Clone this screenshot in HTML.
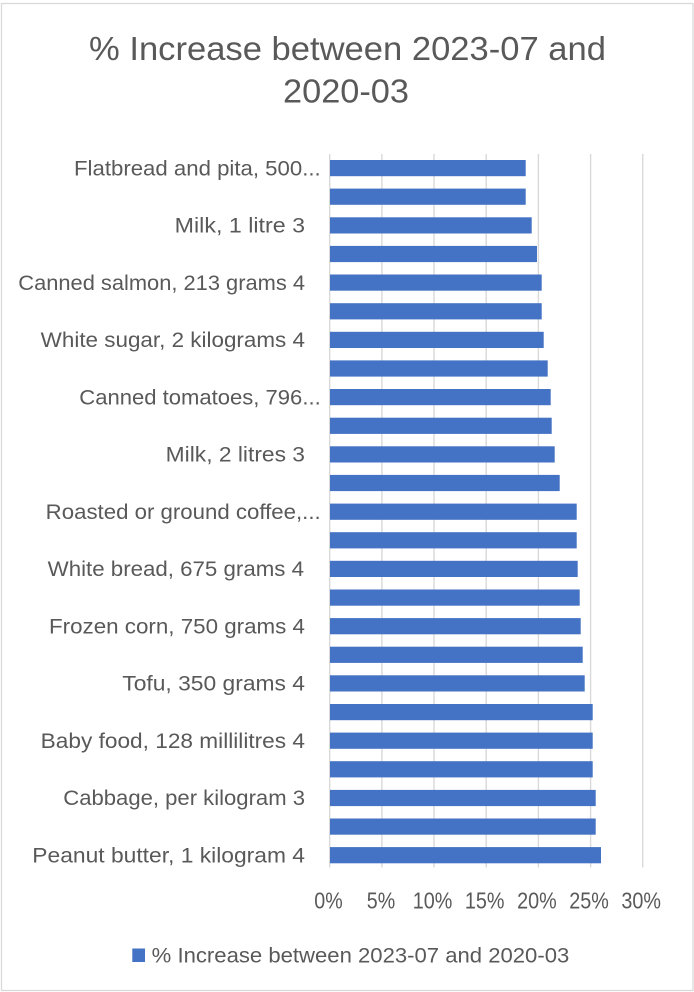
<!DOCTYPE html>
<html><head><meta charset="utf-8"><style>
html,body{margin:0;padding:0;background:#fff;}
svg{display:block;}
text{font-family:"Liberation Sans",Arial,sans-serif;fill:#595959;}
</style></head><body>
<svg width="694" height="992" viewBox="0 0 694 992" xmlns="http://www.w3.org/2000/svg">
<rect x="0" y="0" width="694" height="992" fill="#fff"/>
<rect x="1.5" y="3.5" width="691.5" height="987" fill="none" stroke="#d9d9d9" stroke-width="1.3"/>
<text x="89" y="60" font-size="33" textLength="517" lengthAdjust="spacingAndGlyphs">% Increase between 2023-07 and</text>
<text x="283" y="102.5" font-size="33" textLength="126" lengthAdjust="spacingAndGlyphs">2020-03</text>
<g stroke="#d9d9d9" stroke-width="1.4">
<line x1="329.7" y1="154" x2="329.7" y2="867.5"/>
<line x1="381.9" y1="154" x2="381.9" y2="867.5"/>
<line x1="434" y1="154" x2="434" y2="867.5"/>
<line x1="486.2" y1="154" x2="486.2" y2="867.5"/>
<line x1="538.4" y1="154" x2="538.4" y2="867.5"/>
<line x1="590.6" y1="154" x2="590.6" y2="867.5"/>
<line x1="642.7" y1="154" x2="642.7" y2="867.5"/>
</g>
<g fill="#4472c4">
<rect x="330" y="160" width="195.7" height="16.2"/>
<rect x="330" y="188.6" width="195.7" height="16.2"/>
<rect x="330" y="217.3" width="201.7" height="16.2"/>
<rect x="330" y="245.9" width="207" height="16.2"/>
<rect x="330" y="274.5" width="211.7" height="16.2"/>
<rect x="330" y="303.2" width="211.7" height="16.2"/>
<rect x="330" y="331.8" width="213.7" height="16.2"/>
<rect x="330" y="360.4" width="217.7" height="16.2"/>
<rect x="330" y="389" width="220.7" height="16.2"/>
<rect x="330" y="417.7" width="221.7" height="16.2"/>
<rect x="330" y="446.3" width="224.7" height="16.2"/>
<rect x="330" y="474.9" width="229.7" height="16.2"/>
<rect x="330" y="503.6" width="246.7" height="16.2"/>
<rect x="330" y="532.2" width="246.7" height="16.2"/>
<rect x="330" y="560.8" width="247.7" height="16.2"/>
<rect x="330" y="589.5" width="249.7" height="16.2"/>
<rect x="330" y="618.1" width="250.7" height="16.2"/>
<rect x="330" y="646.7" width="252.7" height="16.2"/>
<rect x="330" y="675.3" width="254.7" height="16.2"/>
<rect x="330" y="704" width="262.7" height="16.2"/>
<rect x="330" y="732.6" width="262.7" height="16.2"/>
<rect x="330" y="761.2" width="262.7" height="16.2"/>
<rect x="330" y="789.9" width="265.7" height="16.2"/>
<rect x="330" y="818.5" width="265.7" height="16.2"/>
<rect x="330" y="847.1" width="271" height="16.2"/>
</g>
<g font-size="21.5">
<text x="74" y="175.3" textLength="246.7" lengthAdjust="spacingAndGlyphs">Flatbread and pita, 500...</text>
<text x="174.7" y="232.5" textLength="130.3" lengthAdjust="spacingAndGlyphs">Milk, 1 litre 3</text>
<text x="18.3" y="289.8" textLength="286.7" lengthAdjust="spacingAndGlyphs">Canned salmon, 213 grams 4</text>
<text x="40.7" y="347" textLength="264.3" lengthAdjust="spacingAndGlyphs">White sugar, 2 kilograms 4</text>
<text x="79.3" y="404.3" textLength="241.4" lengthAdjust="spacingAndGlyphs">Canned tomatoes, 796...</text>
<text x="165.7" y="461.5" textLength="139.3" lengthAdjust="spacingAndGlyphs">Milk, 2 litres 3</text>
<text x="45.7" y="518.8" textLength="275" lengthAdjust="spacingAndGlyphs">Roasted or ground coffee,...</text>
<text x="47.7" y="576" textLength="256.3" lengthAdjust="spacingAndGlyphs">White bread, 675 grams 4</text>
<text x="49" y="633.3" textLength="256" lengthAdjust="spacingAndGlyphs">Frozen corn, 750 grams  4</text>
<text x="122.3" y="690.5" textLength="182.7" lengthAdjust="spacingAndGlyphs">Tofu, 350 grams  4</text>
<text x="40.7" y="747.8" textLength="264.3" lengthAdjust="spacingAndGlyphs">Baby food, 128 millilitres 4</text>
<text x="63.3" y="805" textLength="241.7" lengthAdjust="spacingAndGlyphs">Cabbage, per kilogram 3</text>
<text x="32.3" y="862.3" textLength="272.7" lengthAdjust="spacingAndGlyphs">Peanut butter, 1 kilogram 4</text>
</g>
<g font-size="23" text-anchor="middle">
<text x="328.5" y="908.3" textLength="28.4" lengthAdjust="spacingAndGlyphs">0%</text>
<text x="381" y="908.3" textLength="28.4" lengthAdjust="spacingAndGlyphs">5%</text>
<text x="432.5" y="908.3" textLength="39.6" lengthAdjust="spacingAndGlyphs">10%</text>
<text x="484.7" y="908.3" textLength="39.6" lengthAdjust="spacingAndGlyphs">15%</text>
<text x="536.9" y="908.3" textLength="39.6" lengthAdjust="spacingAndGlyphs">20%</text>
<text x="589.1" y="908.3" textLength="39.6" lengthAdjust="spacingAndGlyphs">25%</text>
<text x="641.2" y="908.3" textLength="39.6" lengthAdjust="spacingAndGlyphs">30%</text>
</g>
<rect x="132.3" y="948.5" width="12.7" height="13.5" fill="#4472c4"/>
<text x="151.7" y="962.3" font-size="21.5" textLength="417.6" lengthAdjust="spacingAndGlyphs">% Increase between 2023-07 and 2020-03</text>
</svg>
</body></html>
